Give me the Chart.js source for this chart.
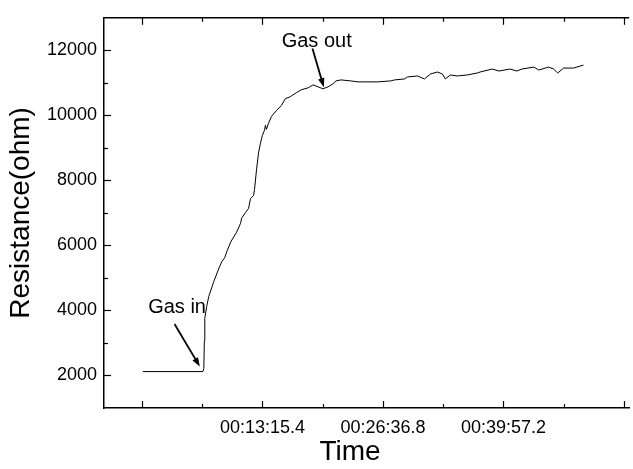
<!DOCTYPE html>
<html>
<head>
<meta charset="utf-8">
<script src="https://cdn.jsdelivr.net/npm/chart.js@4/dist/chart.umd.min.js"></script>
<style>
  html, body { margin: 0; padding: 0; background: #fff; }
  #wrap { width: 633px; height: 469px; }
</style>
</head>
<body>
<div id="wrap"><canvas id="c" width="633" height="469"></canvas></div>
<script>
// ---- data (time in seconds, resistance in ohm) ----
const timeSec = [0, 399, 405.6, 409, 412, 425, 438.6, 471.7, 504.7, 524.5, 544, 557.6, 584, 623.6, 650, 656.6, 683, 703, 716, 736, 742.5, 755.8, 769, 782, 795, 808.6, 815, 821.8, 835, 855, 888, 921, 947, 980, 1020, 1053, 1099, 1132, 1165, 1198, 1231, 1264, 1284, 1317, 1383, 1430, 1496, 1562, 1648, 1674, 1740, 1760, 1826, 1872, 1912, 1958, 1991, 2011, 2044, 2090, 2156, 2223, 2242, 2322, 2368, 2440, 2487, 2520, 2599, 2632, 2698, 2731, 2758, 2797, 2863, 2929];
const resistance = [2120, 2120, 2213, 3064, 3763, 4128, 4432, 4888, 5283, 5496, 5618, 5800, 6104, 6408, 6682, 6834, 7016, 7138, 7442, 7533, 7715, 8323, 8840, 9144, 9387, 9539, 9691, 9570, 9752, 9965, 10147, 10299, 10512, 10573, 10694, 10786, 10846, 10938, 10877, 10816, 10877, 10968, 11059, 11090, 11059, 11029, 11029, 11029, 11059, 11090, 11120, 11181, 11211, 11120, 11272, 11333, 11272, 11120, 11242, 11211, 11242, 11302, 11333, 11424, 11363, 11424, 11363, 11424, 11485, 11394, 11485, 11424, 11302, 11454, 11454, 11546];

const xTickValues = [-6.0, 394.7, 795.4, 1196.1, 1596.8, 1997.0, 2397.2, 2798.0, 3198.6];
const xTickLabels = ['', '', '00:13:15.4', '', '00:26:36.8', '', '00:39:57.2', '', ''];
const yTickValues = [2000, 4000, 6000, 8000, 10000, 12000];
const yMinorTicks = [3000, 5000, 7000, 9000, 11000];
const xRange = [-258, 3233];
const yRange = [1000, 13000];

const annotations = [
  { text: 'Gas in',  at: [35.6, 3915],  from: [210.7, 3581],  to: [379, 2274] },
  { text: 'Gas out', at: [923, 12102],  from: [1127.7, 12053], to: [1203, 10868] }
];

const FONT = 'Arial, "Liberation Sans", sans-serif';

const decor = {
  id: 'decor',
  afterDraw(chart) {
    const ctx = chart.ctx, xs = chart.scales.x, ys = chart.scales.y, a = chart.chartArea;
    ctx.save();
    ctx.strokeStyle = '#000';
    ctx.lineWidth = 1.5;
    // top axis line
    ctx.beginPath(); ctx.moveTo(a.left, a.top); ctx.lineTo(a.right, a.top); ctx.stroke();
    ctx.lineWidth = 1.2;
    // x ticks (bottom up, top down)
    xTickValues.forEach((v, i) => {
      const px = Math.round(xs.getPixelForValue(v)) + 0.5;
      const len = i % 2 === 0 ? 7 : 4;
      ctx.beginPath(); ctx.moveTo(px, a.bottom); ctx.lineTo(px, a.bottom - len); ctx.stroke();
      ctx.beginPath(); ctx.moveTo(px, a.top); ctx.lineTo(px, a.top + len); ctx.stroke();
    });
    // y ticks (inward)
    yTickValues.forEach(v => {
      const py = Math.round(ys.getPixelForValue(v)) + 0.5;
      ctx.beginPath(); ctx.moveTo(a.left, py); ctx.lineTo(a.left + 7, py); ctx.stroke();
    });
    yMinorTicks.forEach(v => {
      const py = Math.round(ys.getPixelForValue(v)) + 0.5;
      ctx.beginPath(); ctx.moveTo(a.left, py); ctx.lineTo(a.left + 4, py); ctx.stroke();
    });
    // annotations
    ctx.fillStyle = '#000';
    ctx.font = '20px ' + FONT;
    ctx.textBaseline = 'alphabetic';
    ctx.textAlign = 'left';
    annotations.forEach(an => {
      ctx.fillText(an.text, xs.getPixelForValue(an.at[0]), ys.getPixelForValue(an.at[1]));
      const x1 = xs.getPixelForValue(an.from[0]), y1 = ys.getPixelForValue(an.from[1]);
      const x2 = xs.getPixelForValue(an.to[0]), y2 = ys.getPixelForValue(an.to[1]);
      const ang = Math.atan2(y2 - y1, x2 - x1);
      const hl = 9, hw = 3.2;
      ctx.lineWidth = 1.8;
      ctx.beginPath(); ctx.moveTo(x1, y1);
      ctx.lineTo(x2 - Math.cos(ang) * hl * 0.8, y2 - Math.sin(ang) * hl * 0.8); ctx.stroke();
      ctx.beginPath();
      ctx.moveTo(x2, y2);
      ctx.lineTo(x2 - Math.cos(ang) * hl - Math.sin(ang) * hw, y2 - Math.sin(ang) * hl + Math.cos(ang) * hw);
      ctx.lineTo(x2 - Math.cos(ang) * hl + Math.sin(ang) * hw, y2 - Math.sin(ang) * hl - Math.cos(ang) * hw);
      ctx.closePath(); ctx.fill();
    });
    // x axis title
    ctx.font = '28px ' + FONT;
    ctx.textAlign = 'center';
    ctx.textBaseline = 'middle';
    ctx.fillText('Time', 350, 452);
    ctx.restore();
  }
};

new Chart(document.getElementById('c'), {
  type: 'line',
  data: {
    datasets: [{
      data: timeSec.map((t, i) => ({ x: t, y: resistance[i] })),
      borderColor: '#000',
      borderWidth: 1,
      pointRadius: 0,
      tension: 0,
      fill: false
    }]
  },
  options: {
    responsive: false,
    animation: false,
    devicePixelRatio: 1,
    layout: { padding: { top: 13, right: 0, left: 0, bottom: 0 } },
    plugins: { legend: { display: false }, tooltip: { enabled: false } },
    scales: {
      x: {
        type: 'linear',
        min: xRange[0], max: xRange[1],
        grid: { display: false, drawTicks: false },
        border: { display: true, color: '#000', width: 1.5 },
        afterBuildTicks: s => { s.ticks = xTickValues.map(v => ({ value: v })); },
        afterFit: s => { s.height = 61; },
        ticks: {
          autoSkip: false, maxRotation: 0, minRotation: 0,
          color: '#000', padding: 9,
          font: { family: FONT, size: 18 },
          callback: (v, i) => xTickLabels[i]
        },
        title: { display: false }
      },
      y: {
        min: yRange[0], max: yRange[1],
        grid: { display: false, drawTicks: false },
        border: { display: true, color: '#000', width: 1.5 },
        afterBuildTicks: s => { s.ticks = yTickValues.map(v => ({ value: v })); },
        afterFit: s => { s.width = 104; },
        ticks: {
          color: '#000', padding: 7,
          font: { family: FONT, size: 18 },
          callback: v => String(v)
        },
        title: {
          display: true, text: 'Resistance(ohm)', color: '#000',
          font: { family: FONT, size: 28 },
          padding: { top: 4, bottom: 0 }
        }
      }
    }
  },
  plugins: [decor]
});
</script>
</body>
</html>
